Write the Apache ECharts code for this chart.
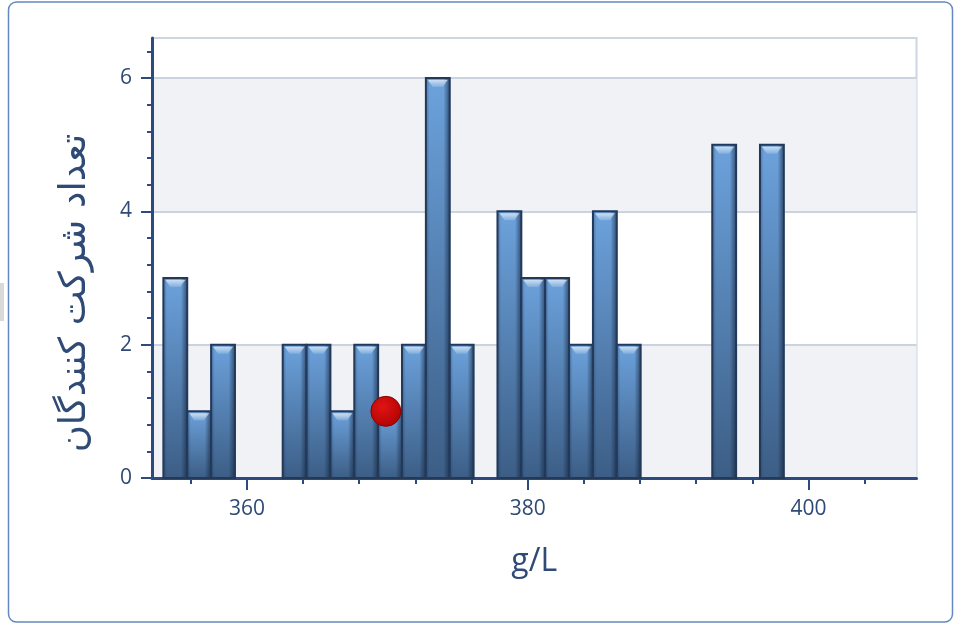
<!DOCTYPE html>
<html lang="fa">

<head>
    <meta charset="UTF-8">
    <title>g/L histogram</title>
    <script src="https://cdn.jsdelivr.net/npm/echarts@6/dist/echarts.min.js"></script>
    <style>
        html,
        body {
            margin: 0;
            width: 100%;
            height: 100%;
            background: #fff;
        }
    </style>
</head>

<body>
    <div id="chart" style="width: 956px;height: 624px;"></div>
    <script>
        // histogram bins (only non-empty ones)
        var binLow = [354.05, 355.75, 357.45, 362.55, 364.25, 365.95, 367.65, 369.35, 371.05, 372.75, 374.45,
            377.85, 379.55, 381.25, 382.95, 384.65, 386.35, 393.15, 396.55];
        var binHigh = [355.75, 357.45, 359.15, 364.25, 365.95, 367.65, 369.35, 371.05, 372.75, 374.45, 376.15,
            379.55, 381.25, 382.95, 384.65, 386.35, 388.05, 394.85, 398.25];
        var counts = [3, 1, 2, 2, 2, 1, 2, 1, 2, 6, 2, 4, 3, 3, 2, 4, 2, 5, 5];

        // the red marker
        var markerPoint = [369.9, 1];

        var xMajorTicks = [360, 380, 400];
        var xMinorTicks = [356, 364, 368, 372, 376, 384, 388, 392, 396, 404];
        var yMajorTicks = [0, 2, 4, 6];
        var yMinorTicks = [0.4, 0.8, 1.2, 1.6, 2.4, 2.8, 3.2, 3.6, 4.4, 4.8, 5.2, 5.6, 6.4];

        var X_MIN = 353.24, X_MAX = 407.7;
        var Y_MAX = 6.6;
        var AXIS_COLOR = '#2c4a80';
        var TEXT_COLOR = '#2e4a75';

        var barData = binLow.map(function (lo, i) {
            return [lo, binHigh[i], counts[i]];
        });

        function renderBar(params, api) {
            var lo = api.value(0), hi = api.value(1), v = api.value(2);
            var p0 = api.coord([lo, v]);
            var p1 = api.coord([hi, 0]);
            var x = p0[0], y = p0[1], w = p1[0] - p0[0], h = p1[1] - p0[1];
            return {
                type: 'group',
                children: [{
                    type: 'rect',
                    shape: { x: x, y: y, width: w, height: h },
                    style: {
                        fill: new echarts.graphic.LinearGradient(0, 0, 0, 1, [
                            { offset: 0, color: '#6ca2dc' },
                            { offset: 1, color: '#3c5e86' }
                        ])
                    }
                }, {
                    type: 'rect',
                    shape: { x: x, y: y, width: w, height: h },
                    style: {
                        fill: new echarts.graphic.LinearGradient(0, 0, 1, 0, [
                            { offset: 0, color: 'rgba(25,45,75,0.45)' },
                            { offset: 0.18, color: 'rgba(25,45,75,0)' },
                            { offset: 0.72, color: 'rgba(20,35,60,0)' },
                            { offset: 0.85, color: 'rgba(20,35,60,0.35)' },
                            { offset: 1, color: 'rgba(15,28,50,0.7)' }
                        ]),
                        stroke: '#22395a',
                        lineWidth: 2
                    }
                }, {
                    type: 'polygon',
                    shape: {
                        points: [[x + 2, y + 2], [x + w - 2, y + 2], [x + w - 7, y + 9], [x + 7, y + 9]]
                    },
                    style: {
                        fill: new echarts.graphic.LinearGradient(0, 0, 0, 1, [
                            { offset: 0, color: 'rgba(255,255,255,0.65)' },
                            { offset: 1, color: 'rgba(255,255,255,0.15)' }
                        ])
                    }
                }]
            };
        }

        var chart = echarts.init(document.getElementById('chart'));
        chart.setOption({
            animation: false,
            textStyle: { fontFamily: 'Open Sans' },
            graphic: [{
                type: 'rect',
                shape: { x: 8.5, y: 2, width: 944, height: 620, r: 8 },
                style: { fill: 'none', stroke: '#6489c2', lineWidth: 1.5 },
                z: 100
            }, {
                type: 'rect',
                shape: { x: 0, y: 283, width: 4, height: 38 },
                style: { fill: '#d9d9d9' }
            }, {
                type: 'rect',
                shape: { x: 152, y: 38, width: 764.5, height: 440 },
                style: { fill: 'none', stroke: '#cdd5e2', lineWidth: 2 },
                z: 0
            }],
            grid: {
                left: 152,
                right: 39.5,
                top: 38,
                bottom: 146
            },
            xAxis: [{
                type: 'value',
                position: 'bottom',
                min: X_MIN,
                max: X_MAX,
                name: 'g/L',
                nameLocation: 'middle',
                nameGap: 68,
                nameTextStyle: { fontSize: 32, color: TEXT_COLOR, fontFamily: 'Open Sans' },
                axisLine: { onZero: false, lineStyle: { color: AXIS_COLOR, width: 3 } },
                axisTick: { customValues: xMajorTicks, length: 12, lineStyle: { color: AXIS_COLOR, width: 2 } },
                axisLabel: { customValues: xMajorTicks, fontSize: 21, color: TEXT_COLOR, margin: 21 },
                splitLine: { show: false }
            }, {
                type: 'value',
                position: 'bottom',
                min: X_MIN,
                max: X_MAX,
                axisLine: { show: false },
                axisTick: { customValues: xMinorTicks, length: 6, lineStyle: { color: AXIS_COLOR, width: 2 } },
                axisLabel: { show: false },
                splitLine: { show: false }
            }],
            yAxis: [{
                type: 'value',
                min: 0,
                max: Y_MAX,
                interval: 2,
                name: 'تعداد شرکت کنندگان',
                nameLocation: 'middle',
                nameRotate: 90,
                nameGap: 58,
                nameTextStyle: {
                    fontSize: 37, color: TEXT_COLOR, fontFamily: 'DejaVu Sans',
                    padding: [0, 70, 0, 0]
                },
                axisLine: { show: true, lineStyle: { color: AXIS_COLOR, width: 3 } },
                axisTick: { show: true, customValues: yMajorTicks, length: 11, lineStyle: { color: AXIS_COLOR, width: 2 } },
                axisLabel: { customValues: yMajorTicks, fontSize: 21, color: TEXT_COLOR, margin: 20 },
                splitLine: { show: true, lineStyle: { color: '#cbd3df', width: 2 } },
                splitArea: { show: true, areaStyle: { color: ['#f0f2f6', '#ffffff'] } }
            }, {
                type: 'value',
                min: 0,
                max: Y_MAX,
                position: 'left',
                axisLine: { show: false },
                axisTick: { show: true, customValues: yMinorTicks, length: 5, lineStyle: { color: AXIS_COLOR, width: 2 } },
                axisLabel: { show: false },
                splitLine: { show: false }
            }],
            series: [{
                type: 'custom',
                xAxisIndex: 0,
                yAxisIndex: 0,
                renderItem: renderBar,
                encode: { x: [0, 1], y: 2 },
                data: barData,
                z: 2
            }, {
                type: 'scatter',
                xAxisIndex: 0,
                yAxisIndex: 0,
                symbolSize: 30,
                zlevel: 1,
                data: [markerPoint],
                itemStyle: {
                    color: new echarts.graphic.RadialGradient(0.4, 0.35, 0.7, [
                        { offset: 0, color: '#e01414' },
                        { offset: 1, color: '#b00202' }
                    ]),
                    borderColor: '#8a0000',
                    borderWidth: 1,
                    opacity: 1
                }
            }]
        });
    </script>
</body>

</html>
